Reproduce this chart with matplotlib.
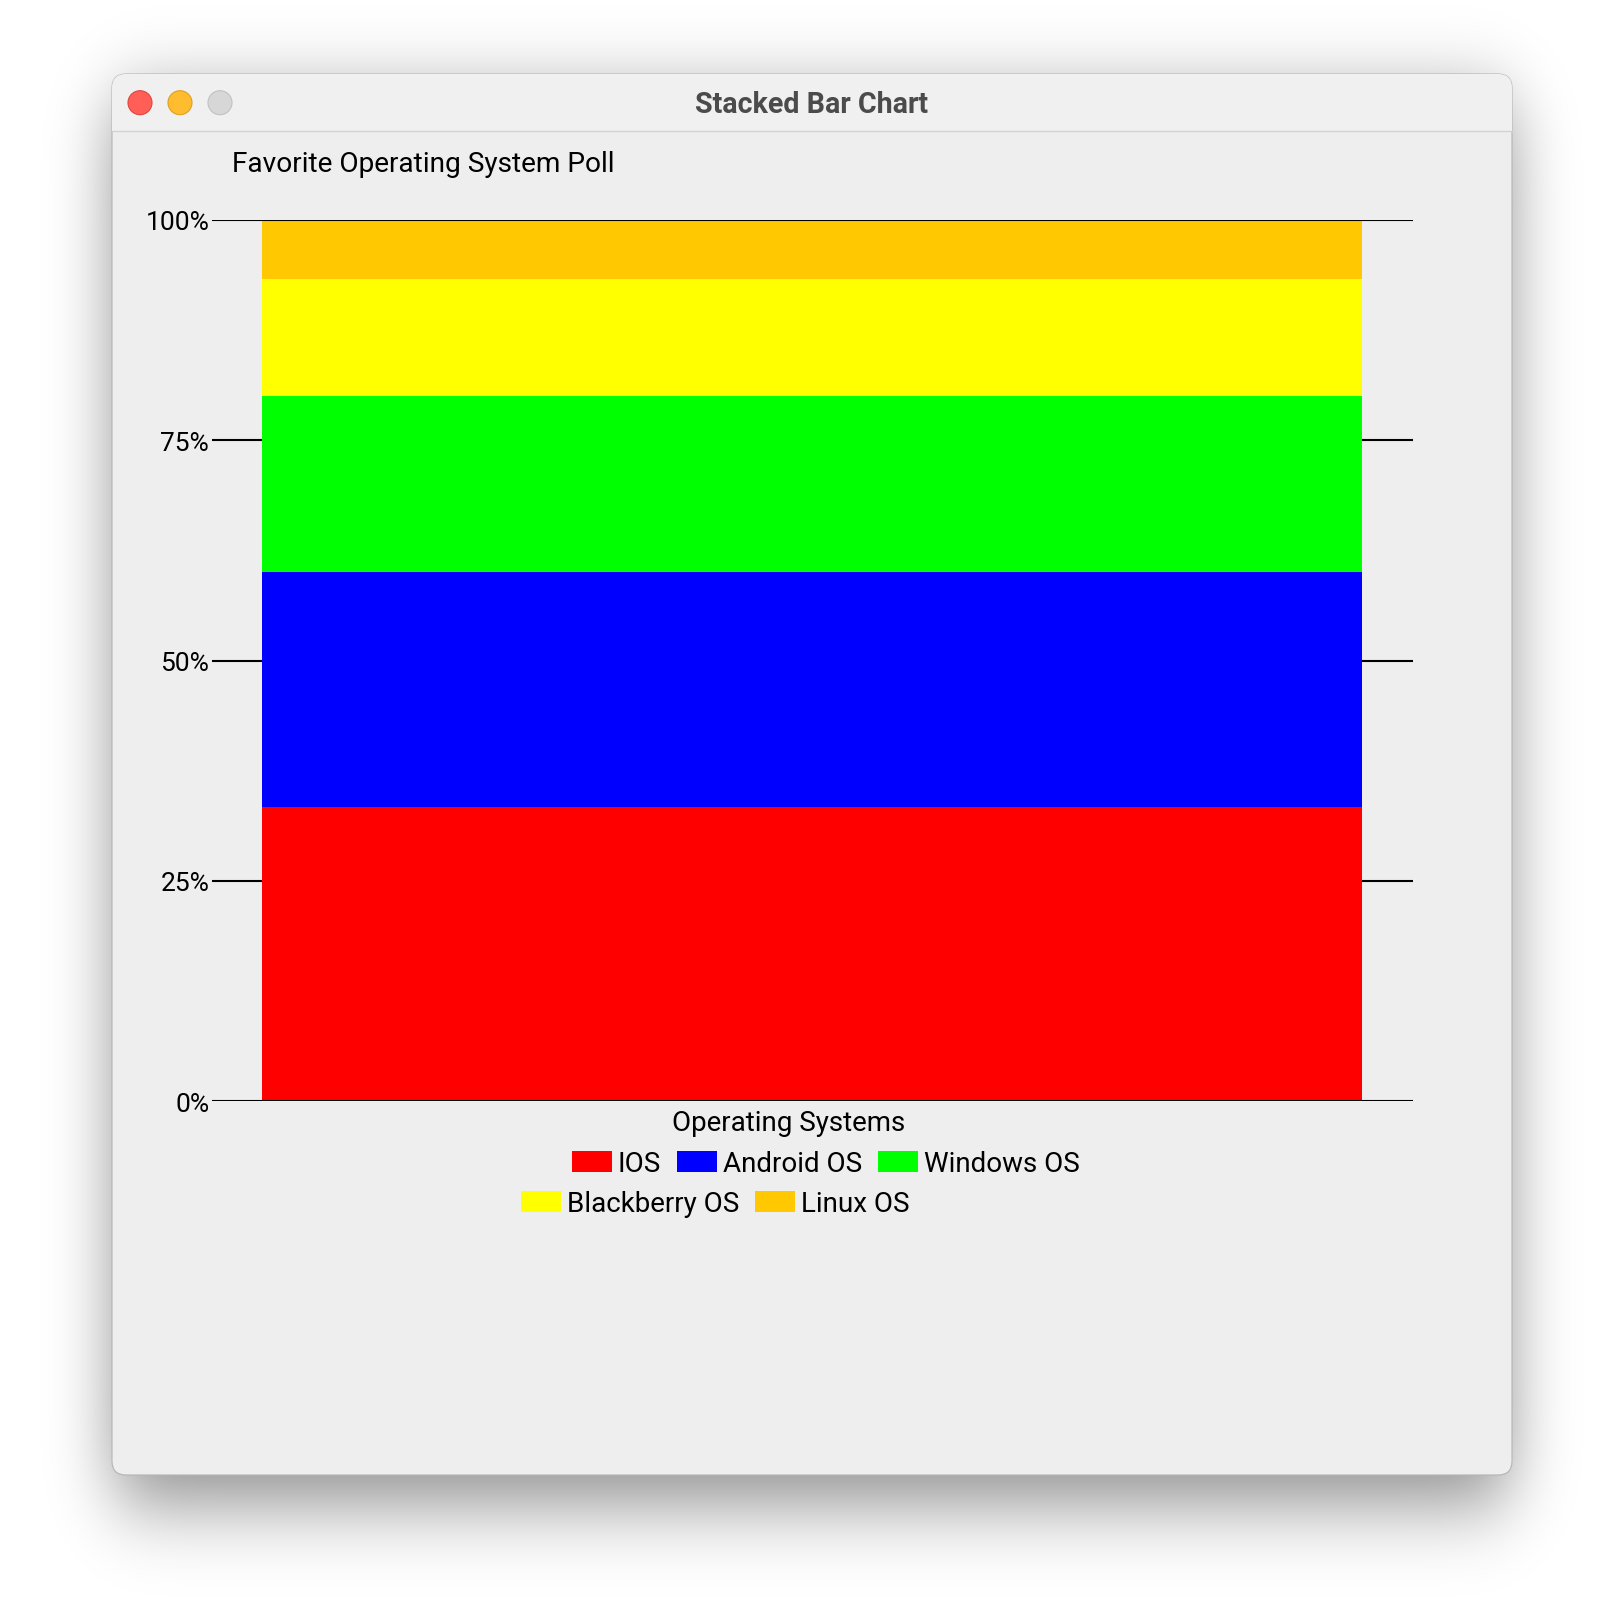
import numpy as np
import matplotlib
matplotlib.use("Agg")
import matplotlib.pyplot as plt
from matplotlib.patches import FancyBboxPatch, Rectangle, Circle

# --- Daten ---
systems = ["IOS", "Android OS", "Windows OS", "Blackberry OS", "Linux OS"]
votes = [50, 40, 30, 20, 10]
colors = ["#ff0000", "#0000ff", "#00ff00", "#ffff00", "#ffc800"]
y_ticks = [0, 25, 50, 75, 100]
y_labels = ["0%", "25%", "50%", "75%", "100%"]
window_title = "Stacked Bar Chart"
chart_title = "Favorite Operating System Poll"
x_label = "Operating Systems"

plt.rcParams["font.family"] = ["Roboto", "DejaVu Sans"]

W = H = 1624
fig = plt.figure(figsize=(W / 100, H / 100), dpi=100)
fig.patch.set_facecolor("white")

# Hintergrund in Pixelkoordinaten (y nach unten)
bg = fig.add_axes([0, 0, 1, 1])
bg.axis("off")

# Fenster-Geometrie
wx0, wy0, wx1, wy1 = 112, 75, 1512, 1476


def soft_edge(n, a, b, sigma):
    idx = np.arange(n)
    box = ((idx >= a) & (idx < b)).astype(float)
    k = np.arange(-4 * sigma, 4 * sigma + 1)
    g = np.exp(-0.5 * (k / sigma) ** 2)
    g /= g.sum()
    return np.convolve(box, g, mode="same")


# weicher Fensterschatten
sy = soft_edge(H, wy0 + 26, wy1 + 26, 40)
sx = soft_edge(W, wx0 + 4, wx1 - 4, 32)
shadow = np.zeros((H, W, 4))
shadow[..., 3] = 0.46 * np.outer(sy, sx)
bg.imshow(shadow, extent=(0, W, H, 0), zorder=0, aspect="auto")
bg.set_xlim(0, W)
bg.set_ylim(H, 0)

win = FancyBboxPatch((wx0, wy0), wx1 - wx0, wy1 - wy0,
                     boxstyle="round,pad=0,rounding_size=14",
                     fc="#eeeeee", ec="#b4b4b4", lw=0.8, zorder=1)
bg.add_patch(win)

# Titelleiste
tbar = Rectangle((wx0, wy0), wx1 - wx0, 132 - wy0, fc="#f0f0f0", ec="none", zorder=2)
bg.add_patch(tbar)
tbar.set_clip_path(win)
bg.plot([wx0, wx1], [132, 132], color="#d3d3d3", lw=1, zorder=3)

# Ampel-Knoepfe
for cx, fc, ec in [(140, "#ff5f57", "#e1453e"),
                   (180, "#febc2e", "#dea123"),
                   (220, "#d7d7d7", "#c1c1c1")]:
    bg.add_patch(Circle((cx, 103.7), 12, fc=fc, ec=ec, lw=0.8, zorder=4))

bg.text((wx0 + wx1) / 2, 113, window_title, ha="center", va="baseline",
        fontsize=20.6, fontweight="bold", color="#4b4b4b", zorder=4)

# --- Diagramm ---
ax = fig.add_axes([212 / W, 1 - 1102 / H, (1413 - 212) / W, (1102 - 221) / H])
ax.patch.set_alpha(0)
for s in ax.spines.values():
    s.set_visible(False)

total = sum(votes)
bottom = 0.0
for name, v, c in zip(systems, votes, colors):
    share = v / total * 100
    ax.bar(0, share, bottom=bottom, width=1.0, color=c, zorder=2, label=name)
    bottom += share

ax.set_xlim(-0.5 - 50 / 1100, 0.5 + 51 / 1100)
ax.set_ylim(0, 100)
for t in y_ticks:
    ax.axhline(t, color="black", lw=1.5, zorder=3 if t in (0, 100) else 1)
ax.set_xticks([])
ax.set_yticks(y_ticks, y_labels)
ax.tick_params(axis="y", length=0, pad=2, labelsize=19)

bg.text(232, 172, chart_title, ha="left", va="baseline", fontsize=20.2, zorder=4)
bg.text(789, 1131, x_label, ha="center", va="baseline", fontsize=20, zorder=4)

# Legende (zwei Zeilen, Fluss-Layout)
fig.canvas.draw()
rend = fig.canvas.get_renderer()
rows = [(572, 1162, list(range(0, 3))), (521, 1202, list(range(3, 5)))]
for x, yc, items in rows:
    for i in items:
        bg.add_patch(Rectangle((x, yc - 10.5), 40, 21, fc=colors[i], ec="none", zorder=4))
        txt = bg.text(x + 46, yc + 10, systems[i], ha="left", va="baseline",
                      fontsize=20, zorder=4)
        w = txt.get_window_extent(rend).width
        x += 46 + w + 16

fig.savefig("out.png", dpi=100, facecolor="white")
